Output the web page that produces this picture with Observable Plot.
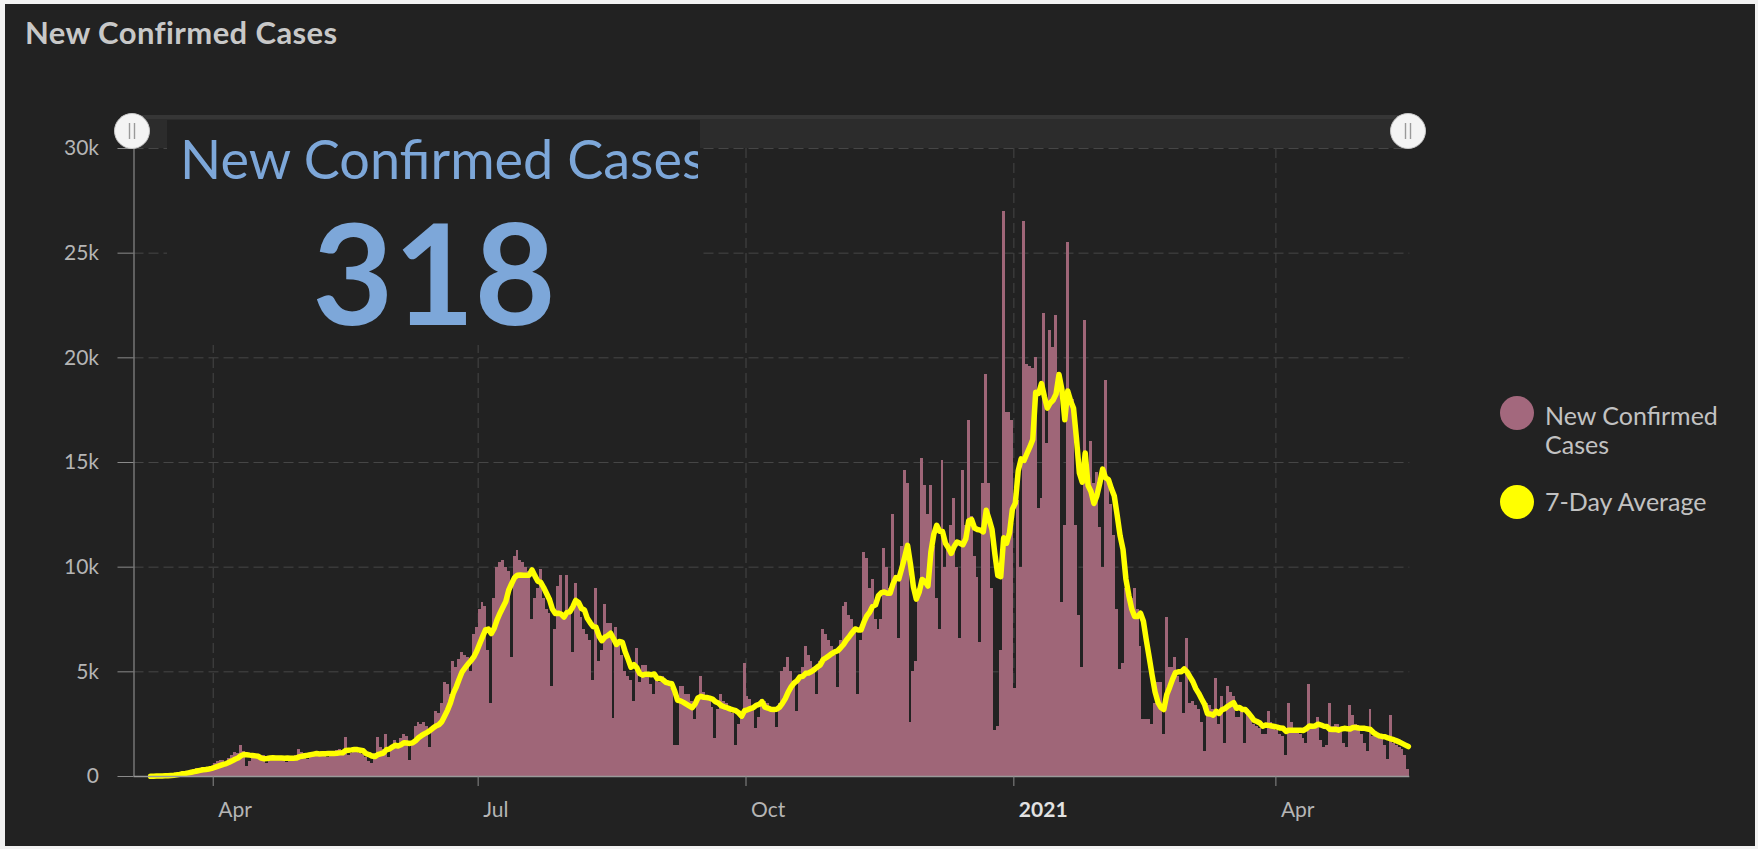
<!DOCTYPE html>
<html>
<head>
<meta charset="utf-8">
<script src="https://cdn.jsdelivr.net/npm/d3@7"></script>
<script src="https://cdn.jsdelivr.net/npm/@observablehq/plot@0.6"></script>
<style>
  html, body { margin: 0; padding: 0; background: #f2f2f2; }
  body { width: 1758px; height: 849px; position: relative; overflow: hidden; font-family: Lato, "Open Sans", sans-serif; }
  #panel { position: absolute; left: 5px; top: 4px; width: 1750px; height: 842px; background: #222222; }
  #chart { position: absolute; left: 0; top: 0; }
</style>
</head>
<body>
<div id="panel"></div>
<div id="chart"></div>
<script>
// ---------------- data ----------------
const chartTitle = "New Confirmed Cases";
const kpiLabel = "New Confirmed Cases";
const kpiValue = "318";
const seriesNames = ["New Confirmed Cases", "7-Day Average"];

const start2020 = "2020-03-10";
// daily new confirmed cases, 2020-03-10 .. 2020-12-31 (one line per Sun–Sat week)
const daily2020 = [
  10, 20, 25, 35, 45,                                   // Mar 10–14
  50, 70, 90, 120, 150, 190, 230,                       // Mar 15
  180, 260, 300, 330, 360, 400, 420,                    // Mar 22
  300, 420, 500, 620, 700, 750, 780,                    // Mar 29
  550, 850, 1000, 1150, 1100, 1500, 1200,               // Apr 5
  500, 700, 900, 1000, 950, 900, 1000,                  // Apr 12
  600, 850, 950, 950, 900, 900, 950,                    // Apr 19
  650, 800, 950, 1000, 1300, 1150, 1100,                // Apr 26
  800, 1000, 1150, 1200, 1150, 1200, 1100,              // May 3
  900, 1000, 1150, 1250, 1300, 1250, 1850,              // May 10
  1000, 1100, 1300, 1200, 1100, 1050, 900,              // May 17
  700, 600, 1100, 1850, 1400, 1300, 2000,               // May 24
  900, 1300, 1700, 1600, 1800, 2000, 1900,              // May 31
  760, 1500, 2400, 2600, 2500, 2600, 2400,              // Jun 7
  1400, 2300, 3100, 3000, 3500, 4500, 4400,             // Jun 14
  3900, 5500, 5200, 5600, 5900, 5800, 5700,             // Jun 21
  5000, 6800, 7100, 8000, 8300, 8100, 6000,             // Jun 28
  3500, 8500, 10000, 10200, 10300, 10000, 9800,         // Jul 5
  5700, 10500, 10800, 10300, 10200, 10000, 9800,        // Jul 12
  7500, 8500, 9000, 9900, 8500, 8000, 7800,             // Jul 19
  4300, 7000, 9100, 9600, 7500, 9600, 8000,             // Jul 26
  5900, 9200, 8400, 7600, 7000, 6800, 6500,             // Aug 2
  4600, 9000, 5500, 6000, 8200, 7300, 7300,             // Aug 9
  2750, 7100, 6500, 5800, 5000, 4800, 4600,             // Aug 16
  3600, 6100, 4500, 5300, 5300, 4800, 4400,             // Aug 23
  3900, 4600, 4500, 4800, 4500, 4500, 4200,             // Aug 30
  1500, 1500, 4300, 4300, 3900, 3900, 3600,             // Sep 6
  2700, 3600, 4800, 4000, 3800, 3700, 3300,             // Sep 13
  1800, 3200, 3900, 3600, 3500, 3300, 3000,             // Sep 20
  1500, 2500, 2800, 5400, 3800, 3700, 3300,             // Sep 27
  2300, 2800, 3700, 3600, 3500, 3300, 3200,             // Oct 4
  2350, 3500, 5000, 5200, 5700, 5000, 4500,             // Oct 11
  3100, 4800, 5200, 6200, 5800, 5500, 5200,             // Oct 18
  3900, 5500, 7000, 6800, 6500, 6200, 5800,             // Oct 25
  4250, 6500, 8100, 8300, 7700, 7500, 7000,             // Nov 1
  3900, 6500, 10700, 10400, 9000, 9400, 7500,           // Nov 8
  7000, 7500, 10900, 10000, 9000, 12500, 9600,          // Nov 15
  6600, 11000, 14600, 14000, 2600, 5000, 5500,          // Nov 22
  9000, 15200, 13900, 12500, 13900, 11000, 8500,        // Nov 29
  7000, 15100, 10000, 11000, 12000, 13300, 10000,       // Dec 6
  6600, 14600, 12000, 17000, 12400, 10500, 9500,        // Dec 13
  6400, 14000, 19200, 14000, 9000, 2200, 2400,          // Dec 20
  6000, 27000, 17400, 17400, 17000                      // Dec 27–31
];

const start2021 = "2021-01-01";
// daily new confirmed cases, 2021-01-01 .. 2021-05-16
const daily2021 = [
  4200, 13200,                                          // Jan 1–2
  10000, 26500, 19700, 19600, 19500, 20000, 12800,      // Jan 3
  13300, 22100, 15900, 21300, 20500, 22000, 19300,      // Jan 10
  8300, 12000, 25500, 18000, 18000, 12000, 7700,        // Jan 17
  5200, 21800, 14600, 16000, 14000, 14500, 11900,       // Jan 24
  10000, 18900, 14000, 13000, 11500, 8000, 5100,        // Jan 31
  5400, 9000, 8500, 8500, 9000, 8000, 6200,             // Feb 7
  2700, 2700, 2700, 2500, 3500, 4500, 4500,             // Feb 14
  2000, 7600, 5200, 5200, 5700, 4800, 4500,             // Feb 21
  3000, 6600, 3500, 3600, 3400, 3200, 2600,             // Feb 28
  1200, 3500, 3400, 3200, 4700, 2500, 3800,             // Mar 7
  1600, 4300, 4000, 3800, 2800, 2800, 3100,             // Mar 14
  1600, 3200, 2800, 2500, 2400, 2300, 2000,             // Mar 21
  2000, 3100, 2600, 2300, 2200, 2000, 1900,             // Mar 28
  1000, 3500, 2600, 2300, 2200, 2000, 1800,             // Apr 4
  1600, 4400, 2500, 2400, 2800, 1700, 1400,             // Apr 11
  1500, 3500, 2400, 2500, 2500, 2100, 1600,             // Apr 18
  1400, 3400, 2900, 2500, 2300, 2000, 1600,             // Apr 25
  1200, 3200, 1900, 1900, 1800, 1800, 1500,             // May 2
  800, 2900, 1600, 1500, 1400, 1300, 1000,              // May 9
  318                                                   // May 16
];

const yTicks = [0, 5000, 10000, 15000, 20000, 25000, 30000];
const xTickDates = ["2020-04-01", "2020-07-01", "2020-10-01", "2021-01-01", "2021-04-01"];
const xTickLabels = ["Apr", "Jul", "Oct", "2021", "Apr"];
const xDomain = ["2020-03-04T19:00Z", "2021-05-17T00:00Z"];

// ---------------- build rows ----------------
function rowsFrom(startIso, values) {
  const s = new Date(startIso + "T00:00Z");
  return values.map((v, i) => {
    const date = d3.utcDay.offset(s, i);
    return { date, next: d3.utcDay.offset(date, 1), mid: d3.utcHour.offset(date, 12), value: v };
  });
}
const rows = rowsFrom(start2020, daily2020).concat(rowsFrom(start2021, daily2021));
const ticks = xTickDates.map((d, i) => ({ date: new Date(d + "T00:00Z"), label: xTickLabels[i], bold: xTickLabels[i] === "2021" }));
const dom = xDomain.map(d => new Date(d));

const barColor = "#9f6678";
const lineColor = "#ffff00";
const axisColor = "#8a8a8a";
const labelColor = "#b5b5b5";
const gridColor = "#464646";

const svgEl = Plot.plot({
  width: 1758,
  height: 849,
  marginLeft: 133.5,
  marginRight: 348.7,
  marginTop: 148,
  marginBottom: 73,
  x: { type: "utc", domain: dom, axis: null, label: null },
  y: { domain: [0, 30000], axis: null, label: null },
  style: { background: "transparent", fontFamily: "Lato, 'Open Sans', sans-serif", fontSize: "21px", color: labelColor, overflow: "visible" },
  marks: [
    Plot.gridY(yTicks.slice(1), { stroke: gridColor, strokeOpacity: 1, strokeDasharray: "10,5" }),
    Plot.gridX(ticks.map(t => t.date), { stroke: gridColor, strokeOpacity: 1, strokeDasharray: "10,5" }),
    Plot.rectY(rows, { x1: "date", x2: "next", y: "value", fill: barColor, shapeRendering: "crispEdges" }),
    Plot.lineY(rows, Plot.windowY({ k: 7, anchor: "end" }, { x: "mid", y: "value", stroke: lineColor, strokeWidth: 5.5, strokeLinejoin: "round", strokeLinecap: "round" })),
    Plot.ruleY([0], { stroke: "#9a9a9a", strokeWidth: 1.5 }),
    Plot.ruleX([dom[0]], { y1: 0, y2: 30800, stroke: axisColor, strokeWidth: 1.2 }),
    Plot.axisY(yTicks, { label: null, tickSize: 16, tickPadding: 19, stroke: axisColor, fill: labelColor,
      tickFormat: v => v === 0 ? "0" : `${v / 1000}k` }),
    Plot.axisX(ticks.map(t => t.date), { label: null, tickSize: 10, stroke: axisColor, tickFormat: () => "" }),
    Plot.text(ticks.filter(t => !t.bold), { x: "date", text: "label", frameAnchor: "bottom", dy: 34, dx: 5, textAnchor: "start", lineAnchor: "middle", fill: labelColor }),
    Plot.text(ticks.filter(t => t.bold), { x: "date", text: "label", frameAnchor: "bottom", dy: 34, dx: 5, textAnchor: "start", lineAnchor: "middle", fill: "#e2e2e2", fontWeight: "bold" })
  ]
});
document.getElementById("chart").appendChild(svgEl);

// ---------------- dashboard decorations ----------------
const svg = d3.select(svgEl);
const deco = svg.append("g").attr("font-family", "Lato, 'Open Sans', sans-serif").attr("text-anchor", "start");

// chart title
deco.append("text").attr("x", 25).attr("y", 44).attr("font-size", 31).attr("font-weight", 700)
  .attr("letter-spacing", 0.4).attr("text-anchor", "start").attr("fill", "#c8c8c8").text(chartTitle);

// range slider track
deco.append("rect").attr("x", 132).attr("y", 115).attr("width", 1276).attr("height", 33).attr("fill", "#2c2c2c");
deco.append("rect").attr("x", 132).attr("y", 115).attr("width", 1276).attr("height", 4).attr("fill", "#363636");

// KPI box
deco.append("rect").attr("x", 167).attr("y", 120).attr("width", 533).attr("height", 225).attr("fill", "#222222");
svg.append("defs").append("clipPath").attr("id", "kpiclip")
  .append("rect").attr("x", 167).attr("y", 120).attr("width", 531).attr("height", 225);
const kpi = deco.append("g").attr("clip-path", "url(#kpiclip)");
kpi.append("text").attr("x", 180).attr("y", 179).attr("font-size", 54).attr("text-anchor", "start")
  .attr("fill", "#7da7d9").text(kpiLabel);
kpi.append("text").attr("x", 434).attr("y", 325).attr("text-anchor", "middle").attr("font-size", 140)
  .attr("font-weight", 700).attr("fill", "#7da7d9").text(kpiValue);

// slider handles
[132, 1408].forEach(cx => {
  deco.append("circle").attr("cx", cx).attr("cy", 131).attr("r", 17.5).attr("fill", "#f4f4f4").attr("stroke", "#c8c8c8");
  [-2.5, 2.5].forEach(dx => deco.append("line").attr("x1", cx + dx).attr("x2", cx + dx).attr("y1", 123).attr("y2", 139)
    .attr("stroke", "#9a9a9a").attr("stroke-width", 1.4));
});

// legend
const legend = deco.append("g").attr("font-size", 25).attr("fill", "#c2c2c2").attr("text-anchor", "start");
legend.append("circle").attr("cx", 1517).attr("cy", 413).attr("r", 17).attr("fill", "#a3687d");
legend.append("text").attr("x", 1545).attr("y", 425).text("New Confirmed");
legend.append("text").attr("x", 1545).attr("y", 454).text("Cases");
legend.append("circle").attr("cx", 1517).attr("cy", 502).attr("r", 17).attr("fill", lineColor);
legend.append("text").attr("x", 1545).attr("y", 511).text(seriesNames[1]);
</script>
</body>
</html>
